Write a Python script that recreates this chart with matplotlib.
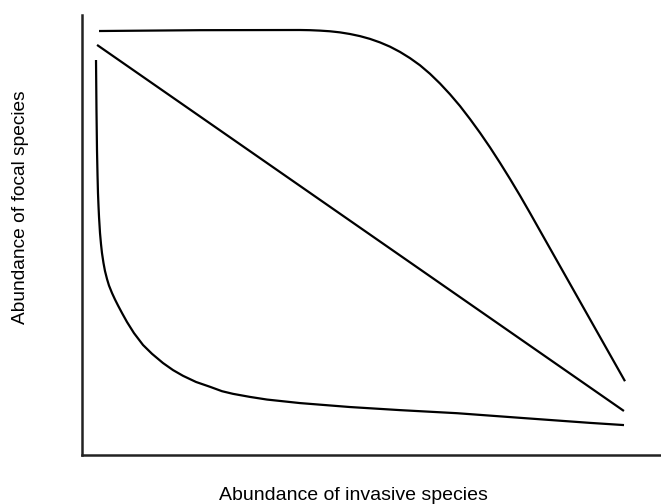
import matplotlib
matplotlib.use("Agg")
import matplotlib.pyplot as plt

# Schematic curves (x: abundance of invasive species, y: abundance of focal species), 0-100 scale
top_x = [2.94, 20.38, 37.65, 39.38, 41.11, 42.83, 44.56, 46.29, 48.01, 49.74, 51.47, 53.20,
         54.92, 56.65, 58.38, 60.10, 61.83, 63.56, 65.28, 67.01, 68.74, 70.47, 72.19,
         73.92, 75.65, 77.37, 79.10, 93.78]
top_y = [96.36, 96.55, 96.59, 96.55, 96.45, 96.30, 96.05, 95.68, 95.20, 94.57, 93.77, 92.80,
         91.61, 90.20, 88.57, 86.64, 84.43, 81.98, 79.32, 76.36, 73.23, 69.91, 66.41,
         62.75, 58.95, 55.02, 50.98, 16.77]

lin_x = [2.6, 93.6]
lin_y = [93.2, 10.0]

bot_x = [2.42, 2.50, 2.59, 2.68, 2.76, 2.85, 2.94, 3.11, 3.28, 3.45, 3.71, 3.97, 4.32,
         4.66, 5.18, 5.70, 6.22, 6.91, 7.77,
         8.98, 10.54, 12.09, 13.99, 15.72, 17.44, 19.69, 22.11, 24.18, 26.08, 29.02,
         31.95, 37.65, 46.29, 54.92, 64.77, 76.17, 87.74, 93.61]
bot_y = [89.77, 78.41, 69.32, 63.64, 59.55, 56.59, 54.09, 50.45, 47.95, 45.91, 43.64, 41.82, 40.0,
         38.52, 36.82, 35.34, 33.98, 32.27, 30.23,
         27.7, 25.0, 23.0, 20.9, 19.3, 18.0, 16.6, 15.5, 14.5, 13.9, 13.2,
         12.6, 11.8, 10.9, 10.2, 9.5, 8.4, 7.3, 6.8]

xlabel = "Abundance of invasive species"
ylabel = "Abundance of focal species"

plt.rcParams['font.family'] = ['Liberation Sans', 'DejaVu Sans']

W, H = 661, 504
fig = plt.figure(figsize=(W / 100, H / 100), dpi=100)
ax = fig.add_axes([82 / W, 49 / H, 1 - 82 / W, (455 - 15) / H])

for xs, ys in [(top_x, top_y), (lin_x, lin_y), (bot_x, bot_y)]:
    ax.plot(xs, ys, color='black', lw=1.6, solid_capstyle='butt', solid_joinstyle='round')

ax.set_xlim(0, 100)
ax.set_ylim(0, 100)
ax.set_xticks([])
ax.set_yticks([])
for s in ['top', 'right']:
    ax.spines[s].set_visible(False)
for s in ['left', 'bottom']:
    ax.spines[s].set_linewidth(1.8)
    ax.spines[s].set_color('#222222')

fig.text(353 / W, 1 - 495 / H, xlabel, ha='center', va='center', fontsize=14)
fig.text(21 / W, 1 - 207 / H, ylabel, ha='center', va='center', rotation=90, fontsize=13.8)

fig.savefig('out.png', dpi=100)
